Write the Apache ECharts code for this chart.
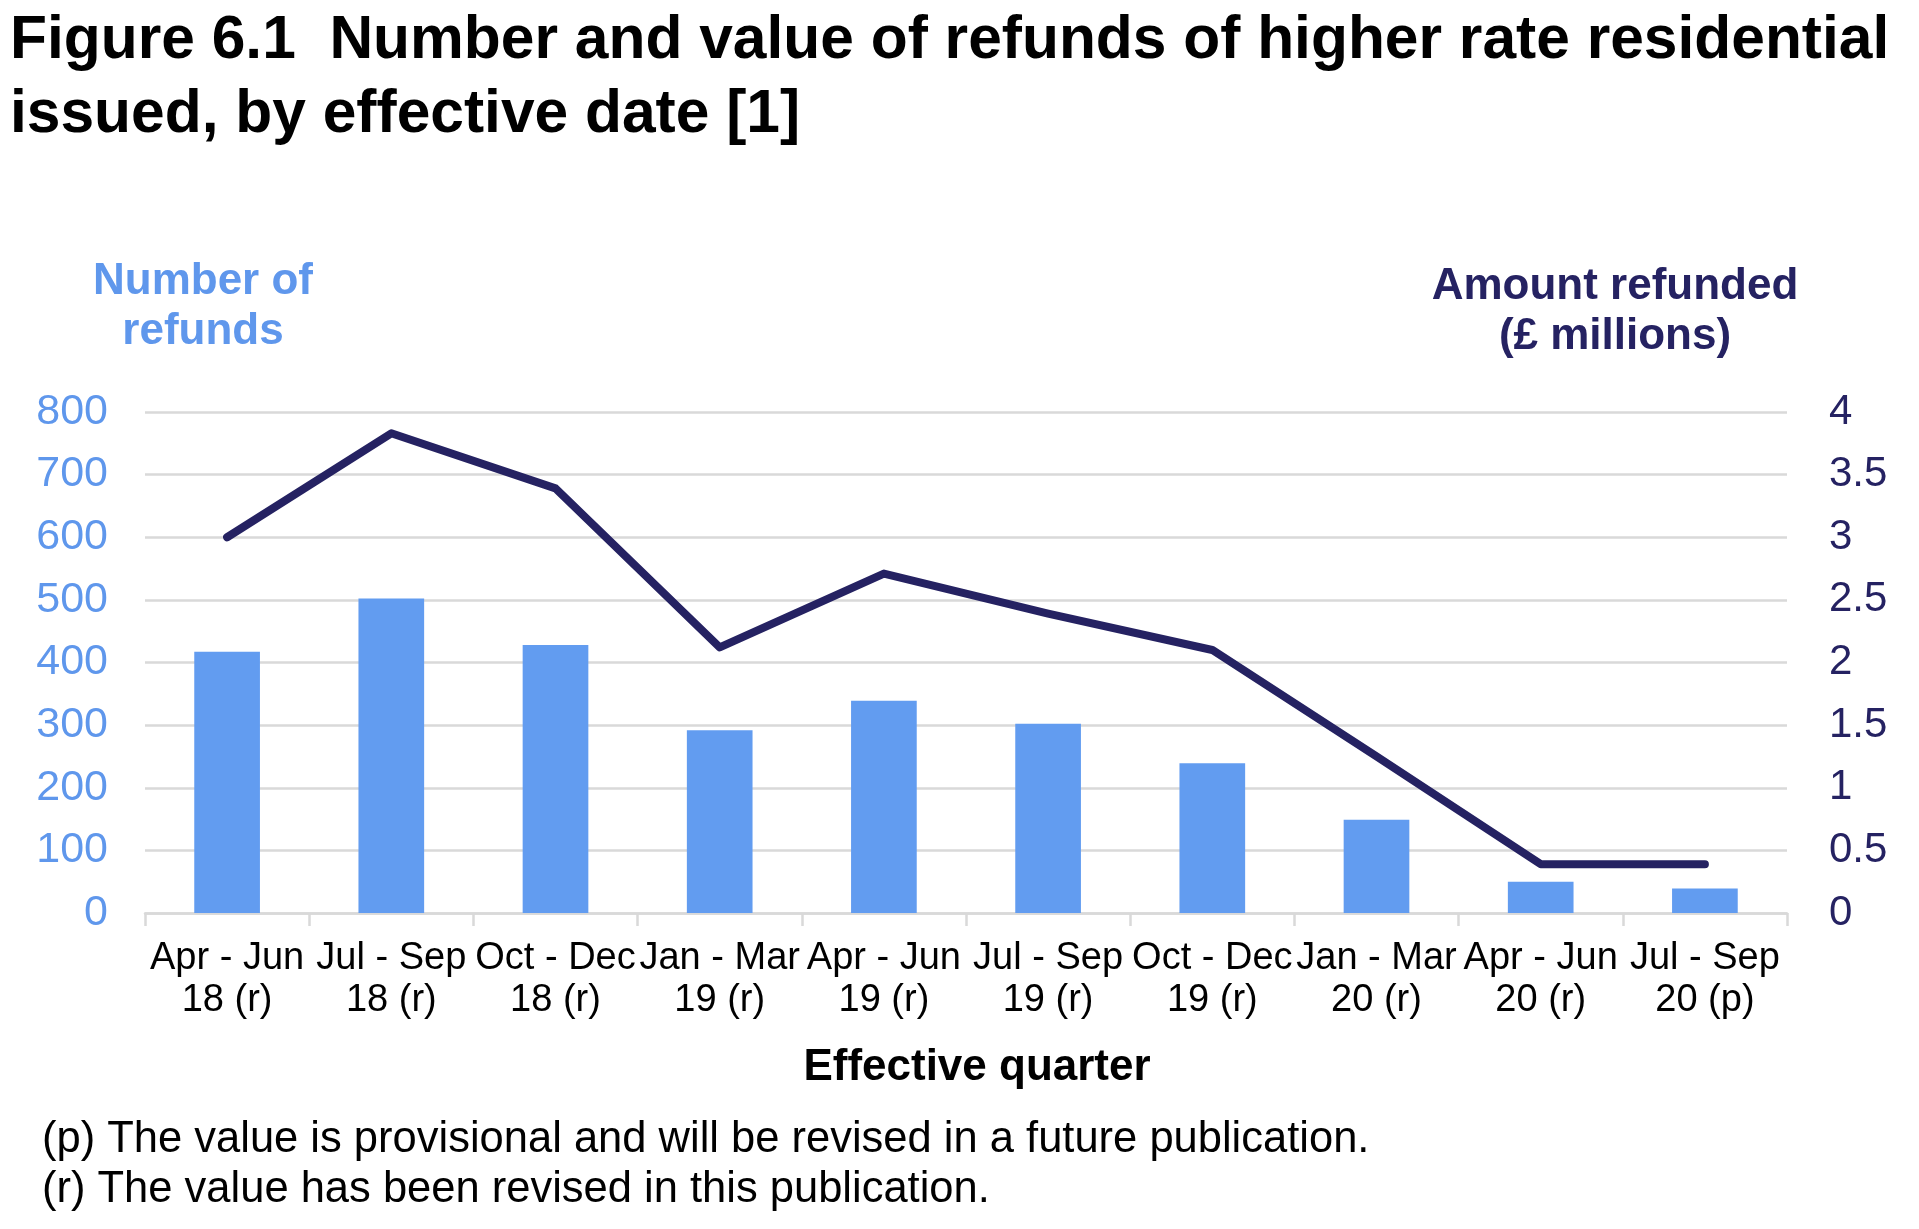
<!DOCTYPE html>
<html>
<head>
<meta charset="utf-8">
<script src="https://cdn.jsdelivr.net/npm/echarts@6/dist/echarts.min.js"></script>
<style>
  html, body { margin: 0; padding: 0; background: #ffffff; }
  #chart { width: 1919px; height: 1229px; }
</style>
</head>
<body>
<div id="chart"></div>
<script>
const categories = [
  'Apr - Jun\n18 (r)', 'Jul - Sep\n18 (r)', 'Oct - Dec\n18 (r)', 'Jan - Mar\n19 (r)',
  'Apr - Jun\n19 (r)', 'Jul - Sep\n19 (r)', 'Oct - Dec\n19 (r)', 'Jan - Mar\n20 (r)',
  'Apr - Jun\n20 (r)', 'Jul - Sep\n20 (p)'
];
const refundCounts = [417, 502, 428, 292, 339, 302, 239, 149, 50, 39];
const amountRefunded = [3.0, 3.83, 3.39, 2.12, 2.71, 2.39, 2.1, 1.25, 0.39, 0.39];

const titleLines = [
  'Figure 6.1  Number and value of refunds of higher rate residential',
  'issued, by effective date [1]'
];
const leftAxisTitle = 'Number of\nrefunds';
const rightAxisTitle = 'Amount refunded\n(£ millions)';
const xAxisTitle = 'Effective quarter';
const footnotes = [
  '(p) The value is provisional and will be revised in a future publication.',
  '(r) The value has been revised in this publication.'
];

const FONT = 'Liberation Sans, Arial, sans-serif';
const BAR_COLOR = '#629CF0';
const LINE_COLOR = '#252262';
const LEFT_LABEL = '#5F97EC';
const GRID_COLOR = '#D9D9D9';

const chart = echarts.init(document.getElementById('chart'), null, { renderer: 'canvas' });

chart.setOption({
  backgroundColor: '#ffffff',
  animation: false,
  grid: { left: 145, top: 412, width: 1642, height: 501, containLabel: false },
  xAxis: {
    type: 'category',
    data: categories,
    boundaryGap: true,
    axisLine: { show: true, lineStyle: { color: GRID_COLOR, width: 2.5 } },
    axisTick: { show: true, length: 13, lineStyle: { color: GRID_COLOR, width: 2.5 } },
    axisLabel: {
      interval: 0,
      margin: 25,
      color: '#000000',
      fontFamily: FONT,
      fontSize: 38,
      lineHeight: 42,
      verticalAlign: 'top'
    },
    splitLine: { show: false }
  },
  yAxis: [
    {
      type: 'value',
      min: 0, max: 800, interval: 100,
      axisLine: { show: false },
      axisTick: { show: false },
      axisLabel: { color: LEFT_LABEL, fontFamily: FONT, fontSize: 43, margin: 37 },
      splitLine: { show: true, lineStyle: { color: GRID_COLOR, width: 2.5 } }
    },
    {
      type: 'value',
      min: 0, max: 4, interval: 0.5,
      position: 'right',
      axisLine: { show: false },
      axisTick: { show: false },
      axisLabel: { color: LINE_COLOR, fontFamily: FONT, fontSize: 42, margin: 42 },
      splitLine: { show: false }
    }
  ],
  series: [
    {
      name: 'Number of refunds',
      type: 'bar',
      yAxisIndex: 0,
      data: refundCounts,
      barWidth: '40%',
      itemStyle: { color: BAR_COLOR }
    },
    {
      name: 'Amount refunded',
      type: 'line',
      yAxisIndex: 1,
      data: amountRefunded,
      showSymbol: false,
      symbol: 'none',
      lineStyle: { color: LINE_COLOR, width: 8, cap: 'round', join: 'round' },
      z: 5
    }
  ],
  graphic: [
    { type: 'text', x: 10, y: 41, style: { text: titleLines[0], font: 'bold 60.5px ' + FONT, fill: '#000000', align: 'left', verticalAlign: 'middle' } },
    { type: 'text', x: 10, y: 115, style: { text: titleLines[1], font: 'bold 60.5px ' + FONT, fill: '#000000', align: 'left', verticalAlign: 'middle' } },
    { type: 'text', x: 203, y: 307, style: { text: leftAxisTitle, font: 'bold 44px ' + FONT, fill: LEFT_LABEL, align: 'center', verticalAlign: 'middle', lineHeight: 50 } },
    { type: 'text', x: 1615, y: 312, style: { text: rightAxisTitle, font: 'bold 44px ' + FONT, fill: LINE_COLOR, align: 'center', verticalAlign: 'middle', lineHeight: 50 } },
    { type: 'text', x: 977, y: 1068, style: { text: xAxisTitle, font: 'bold 44px ' + FONT, fill: '#000000', align: 'center', verticalAlign: 'middle' } },
    { type: 'text', x: 42, y: 1140, style: { text: footnotes[0], font: '43.5px ' + FONT, fill: '#000000', align: 'left', verticalAlign: 'middle' } },
    { type: 'text', x: 42, y: 1190, style: { text: footnotes[1], font: '43.5px ' + FONT, fill: '#000000', align: 'left', verticalAlign: 'middle' } }
  ]
});
</script>
</body>
</html>
